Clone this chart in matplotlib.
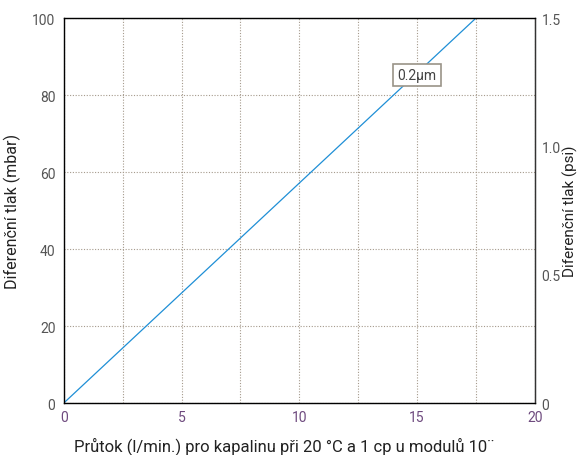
import matplotlib
matplotlib.use("Agg")
import matplotlib.pyplot as plt
import numpy as np

flow = [0, 17.5]
dp_mbar = [0, 100]
x_ticks = [0, 5, 10, 15, 20]
y_ticks = [0, 20, 40, 60, 80, 100]
psi_ticks = [0, 0.5, 1.0, 1.5]
psi_labels = ["0", "0.5", "1.0", "1.5"]
series_label = "0.2µm"

plt.rcParams['font.family'] = ['Roboto', 'DejaVu Sans']

fig = plt.figure(figsize=(5.8, 4.56), dpi=100)
ax = fig.add_axes([0.110, 0.114, 0.812, 0.844])
ax.plot(flow, dp_mbar, color="#1f8fd6", lw=0.9)
ax.set_xlim(0, 20)
ax.set_ylim(0, 100)
ax.set_xticks(x_ticks)
ax.set_xticks(np.arange(0, 20.1, 2.5), minor=True)
ax.set_yticks(y_ticks)
ax.grid(True, which="both", axis="x", color="#a59a8c", ls=(0, (1, 1.5)), lw=0.8)
ax.grid(True, which="major", axis="y", color="#a59a8c", ls=(0, (1, 1.5)), lw=0.8)
ax.tick_params(which="both", length=0)
ax.tick_params(axis="x", colors="#6e4a7e", labelsize=10, pad=5)
ax.tick_params(axis="y", colors="#555555", labelsize=10, pad=6)
for s in ax.spines.values():
    s.set_color("#333333")
    s.set_linewidth(1.0)
ax.set_xlabel("Průtok (l/min.) pro kapalinu při 20 °C a 1 cp u modulů 10¨",
              fontsize=12, color="#222222")
ax.xaxis.set_label_coords(0.467, -0.085)
ax.set_ylabel("Diferenční tlak (mbar)", fontsize=11.5, color="#222222", labelpad=8)

ax2 = ax.twinx()
ax2.set_ylim(0, 1.5)
ax2.set_yticks(psi_ticks)
ax2.set_yticklabels(psi_labels)
ax2.tick_params(length=0, colors="#555555", labelsize=10, pad=5)
ax2.spines["right"].set_color("#333333")
ax2.set_ylabel("Diferenční tlak (psi)", fontsize=11, color="#222222", labelpad=1)

ax.text(15.0, 85.3, series_label, fontsize=10, color="#444444", ha="center", va="center",
        bbox=dict(boxstyle="square,pad=0.3", fc="white", ec="#9a9488", lw=1.2))

fig.savefig("out.png", dpi=100)
